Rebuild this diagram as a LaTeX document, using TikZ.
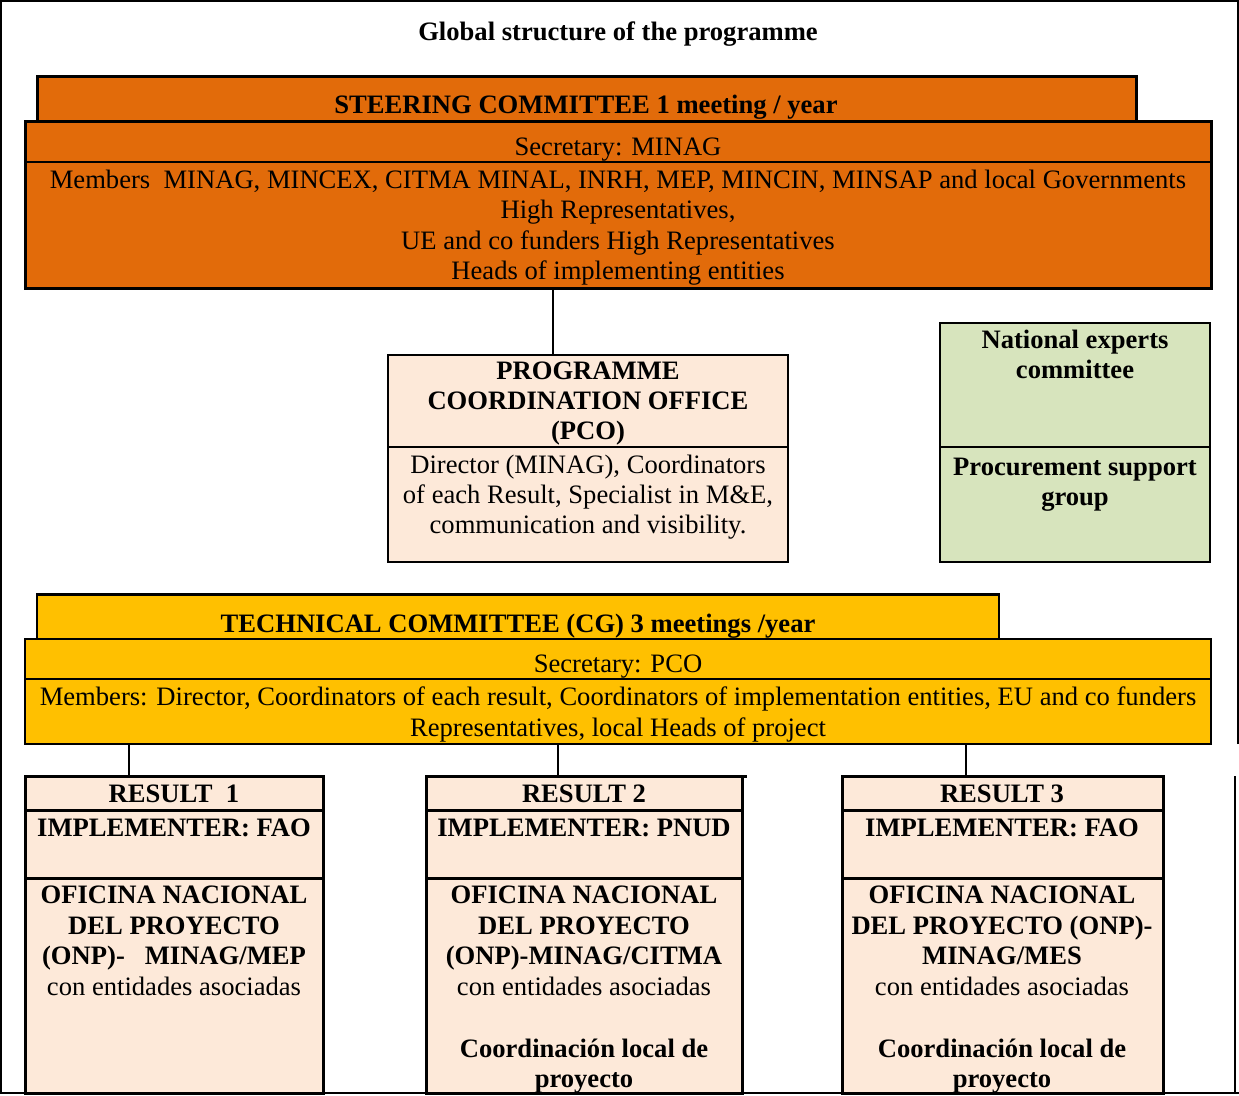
\documentclass[tikz,border=0pt]{standalone}
\usepackage{fontspec}
\setmainfont{Liberation Serif}
\newcommand\myfs{\fontsize{26.6}{30.5}\selectfont}
\definecolor{steer}{HTML}{E26B0A}
\definecolor{techc}{HTML}{FFC000}
\definecolor{peach}{HTML}{FDE9D9}
\definecolor{olive}{HTML}{D7E4BD}
\tikzset{
  box/.style={draw, anchor=north west, inner sep=0pt, outer sep=0pt},
  lbl/.style={anchor=base, inner sep=0pt, font=\myfs},
  blbl/.style={lbl, font=\myfs\bfseries},
  link/.style={line width=2.5pt},
  divider/.style={line width=#1},
}
\begin{document}
\begin{tikzpicture}[x=1pt,y=-1pt]
\useasboundingbox (0,0) rectangle (1239,1095);
% page frame
\draw[line width=2pt] (1237.5,744) -- (1237.5,1) -- (1,1) -- (1,1093) -- (1239,1093);
\draw[line width=2pt] (1235,776) -- (1235,1093);

\node[blbl] (title) at (618,40) {Global structure of the programme};

% steering committee
\node[box, fill=steer, line width=3pt, minimum width=1099pt, minimum height=45pt] (stab) at (37,76) {};
\node[box, fill=steer, line width=3pt, minimum width=1186pt, minimum height=167pt] (smain) at (25,121) {};
\draw[divider=2pt] (smain.west |- 0,162) -- (smain.east |- 0,162);
\node[blbl] (stabt) at (586,113) {STEERING COMMITTEE 1 meeting / year};
\node[lbl] (ssec) at (618,155) {Secretary: MINAG};
\node[lbl] (s1) at (618,188) {Members\ \ MINAG, MINCEX, CITMA MINAL, INRH, MEP, MINCIN, MINSAP and local Governments};
\node[lbl] (s2) at (618,218) {High Representatives,};
\node[lbl] (s3) at (618,249) {UE and co funders High Representatives};
\node[lbl] (s4) at (618,279) {Heads of implementing entities};

% PCO
\node[box, fill=peach, line width=1.5pt, minimum width=400pt, minimum height=207pt] (pco) at (388,355) {};
\draw[divider=2.5pt] (pco.west |- 0,447) -- (pco.east |- 0,447);
\node[blbl] (p1) at (588,379) {PROGRAMME};
\node[blbl] (p2) at (588,409) {COORDINATION OFFICE};
\node[blbl] (p3) at (588,439) {(PCO)};
\node[lbl] (p4) at (588,473) {Director (MINAG), Coordinators};
\node[lbl] (p5) at (588,503) {of each Result, Specialist in M\&E,};
\node[lbl] (p6) at (588,533) {communication and visibility.};
\draw[link] (smain.south -| 553,0) -- (pco.north -| 553,0);

% green box
\node[box, fill=olive, line width=1.3pt, minimum width=270pt, minimum height=239pt] (grn) at (940,323) {};
\draw[divider=1.3pt] (grn.west |- 0,447) -- (grn.east |- 0,447);
\node[blbl] (g1) at (1075,348) {National experts};
\node[blbl] (g2) at (1075,378) {committee};
\node[blbl] (g3) at (1075,475) {Procurement support};
\node[blbl] (g4) at (1075,505) {group};

% technical committee
\node[box, fill=techc, line width=2.5pt, minimum width=962pt, minimum height=45pt] (ttab) at (37,594) {};
\draw[line width=3pt] (ttab.north west) -- (ttab.north east);
\node[box, fill=techc, line width=1.5pt, minimum width=1186pt, minimum height=105pt] (tmain) at (25,639) {};
\draw[divider=1.2pt] (tmain.west |- 0,679) -- (tmain.east |- 0,679);
\node[blbl] (tt) at (518,632) {TECHNICAL COMMITTEE (CG) 3 meetings /year};
\node[lbl] (tsec) at (618,672) {Secretary: PCO};
\node[lbl] (t1) at (618,705) {Members: Director, Coordinators of each result, Coordinators of implementation entities, EU and co funders};
\node[lbl] (t2) at (618,736) {Representatives, local Heads of project};

% results
\node[box, fill=peach, line width=3pt, minimum width=298pt, minimum height=317pt] (r1) at (25,776) {};
\node[box, fill=peach, line width=3pt, minimum width=316pt, minimum height=317pt] (r2) at (426,776) {};
\node[box, fill=peach, line width=3pt, minimum width=321pt, minimum height=317pt] (r3) at (842,776) {};
\draw[line width=3pt] (r2.north east) -- (747,776);
\foreach \r in {r1,r2,r3}{
  \draw[divider=3pt] (\r.west |- 0,810) -- (\r.east |- 0,810);
  \draw[divider=3pt] (\r.west |- 0,878) -- (\r.east |- 0,878);
}
\draw[link] (tmain.south -| 129,0) -- (r1.north -| 129,0);
\draw[link] (tmain.south -| 558,0) -- (r2.north -| 558,0);
\draw[link] (tmain.south -| 966,0) -- (r3.north -| 966,0);

\node[blbl] (r1a) at (174,802) {RESULT\ \ 1};
\node[blbl] (r1b) at (174,836) {IMPLEMENTER: FAO};
\node[blbl] (r1c) at (174,903) {OFICINA NACIONAL};
\node[blbl] (r1d) at (174,934) {DEL PROYECTO};
\node[blbl] (r1e) at (174,964) {(ONP)-\ \ \ MINAG/MEP};
\node[lbl] (r1f) at (174,995) {con entidades asociadas};

\node[blbl] (r2a) at (584,802) {RESULT 2};
\node[blbl] (r2b) at (584,836) {IMPLEMENTER: PNUD};
\node[blbl] (r2c) at (584,903) {OFICINA NACIONAL};
\node[blbl] (r2d) at (584,934) {DEL PROYECTO};
\node[blbl] (r2e) at (584,964) {(ONP)-MINAG/CITMA};
\node[lbl] (r2f) at (584,995) {con entidades asociadas};
\node[blbl] (r2g) at (584,1057) {Coordinación local de};
\node[blbl] (r2h) at (584,1087) {proyecto};

\node[blbl] (r3a) at (1002,802) {RESULT 3};
\node[blbl] (r3b) at (1002,836) {IMPLEMENTER: FAO};
\node[blbl] (r3c) at (1002,903) {OFICINA NACIONAL};
\node[blbl] (r3d) at (1002,934) {DEL PROYECTO (ONP)-};
\node[blbl] (r3e) at (1002,964) {MINAG/MES};
\node[lbl] (r3f) at (1002,995) {con entidades asociadas};
\node[blbl] (r3g) at (1002,1057) {Coordinación local de};
\node[blbl] (r3h) at (1002,1087) {proyecto};
\end{tikzpicture}
\end{document}
